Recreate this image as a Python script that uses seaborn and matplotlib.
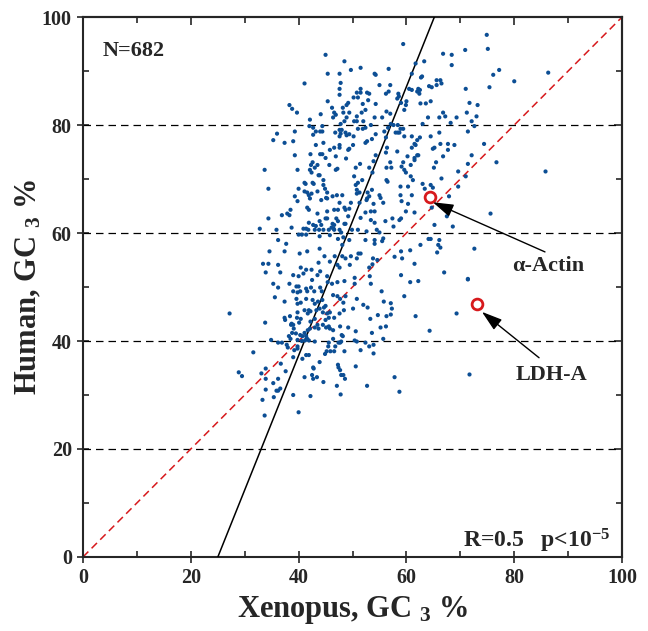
import matplotlib
matplotlib.use("Agg")
import matplotlib.pyplot as plt
import numpy as np
import pandas as pd
import seaborn as sns
from matplotlib.ticker import MultipleLocator, NullFormatter

# ---- data: (Xenopus GC3 %, Human GC3 %), grouped by region ----
upper_left = [(45.0,93.0),(48.5,91.8),(45.4,89.5),(47.6,89.5),(49.7,90.2),(51.5,90.6),(54.1,89.5),(54.3,89.3),(56.7,90.4),(41.1,87.7),(47.8,87.8),(47.6,86.7),(47.6,85.6),(50.8,86.0),(51.5,86.0),(51.5,86.7),(52.7,86.0),(53.1,85.8),(55.0,87.4),(56.2,85.8),(56.7,86.2),(57.0,87.4),(50.2,85.1),(51.0,85.1),(45.4,84.4),(52.9,84.6),(49.2,84.1),(48.9,83.7),(51.9,83.9),(54.3,83.9),(38.3,83.7),(38.8,83.0),(39.7,82.3),(46.2,83.2),(48.2,83.2),(52.4,82.8),(46.6,82.3),(46.9,81.9),(48.3,82.3),(49.4,82.3),(51.7,82.3),(44.1,82.0),(56.3,82.5),(57.0,82.1),(46.4,81.4),(48.9,81.4),(50.8,81.6),(50.8,80.7),(50.3,80.7),(54.1,81.4),(55.5,81.4),(42.1,81.0),(48.5,80.7),(52.0,80.7),(47.8,80.2),(42.0,79.8),(42.7,79.5),(44.4,79.8),(43.2,78.8),(44.0,78.8),(44.4,78.8),(39.3,78.8),(36.0,78.4),(35.3,77.2),(37.4,76.7),(39.0,77.0),(42.7,78.2),(44.6,76.7),(46.8,78.6),(47.6,79.1),(48.0,79.1),(47.8,78.4),(47.6,77.9),(48.7,78.6),(48.9,78.1),(49.4,78.3),(50.2,77.9),(51.0,79.3),(51.9,79.3),(52.4,79.5),(53.4,80.0),(54.3,78.3),(53.6,77.4),(52.7,77.0),(52.4,76.7),(55.9,78.8),(56.2,77.7),(56.6,79.5),(43.2,76.3),(44.0,74.6),(44.4,74.6),(45.8,75.4),(46.6,75.8),(47.6,76.3),(47.6,75.8),(46.9,74.2),(45.0,73.9),(50.1,76.3),(49.2,75.4),(49.4,75.6),(39.3,74.4),(42.2,74.6),(48.8,73.8),(56.4,75.8),(56.2,74.9),(54.3,74.4)]

upper_right = [(74.9,96.7),(59.4,95.0),(75.1,94.1),(66.8,93.2),(68.4,93.0),(70.9,93.9),(68.4,91.1),(63.3,91.8),(61.7,91.4),(61.0,89.5),(62.7,88.8),(62.9,89.0),(77.2,90.2),(76.1,89.3),(80.0,88.1),(86.3,89.7),(71.0,86.7),(75.4,87.0),(65.6,88.3),(66.3,88.3),(66.5,87.7),(65.6,87.4),(64.2,87.2),(64.7,87.0),(60.5,86.7),(61.0,86.5),(62.2,86.7),(62.5,86.5),(62.0,86.2),(62.4,85.8),(58.5,85.8),(58.6,85.3),(58.3,84.9),(59.0,84.1),(60.0,84.4),(59.9,83.7),(62.6,84.0),(63.6,84.0),(64.5,84.4),(71.7,84.1),(73.2,83.7),(59.6,82.8),(66.8,82.3),(67.2,81.6),(71.2,82.3),(73.0,81.6),(64.0,81.4),(66.1,81.4),(69.3,81.4),(68.2,80.4),(72.1,80.7),(72.6,79.8),(63.0,80.2),(57.1,80.2),(57.6,80.0),(58.4,80.0),(58.9,79.3),(59.4,79.3),(58.4,78.6),(58.0,78.6),(58.7,78.6),(59.6,77.9),(61.0,77.9),(62.5,77.7),(62.0,77.2),(61.5,76.5),(61.7,76.3),(61.0,75.8),(64.5,77.9),(66.1,78.6),(71.4,78.8),(66.3,76.5),(67.7,76.5),(68.9,76.3),(65.2,75.8),(64.9,75.6),(67.7,75.4),(74.4,76.5),(58.3,75.1),(60.2,74.2),(61.5,73.9),(62.0,74.4),(62.2,74.4),(66.8,74.2),(72.1,74.4)]

middle_left = [(33.7,71.7),(39.8,71.7),(42.3,72.6),(42.6,73.1),(43.0,72.1),(42.1,71.7),(42.4,71.2),(43.5,72.6),(45.7,72.6),(47.2,71.9),(46.9,71.7),(50.6,72.1),(51.4,72.8),(53.1,72.1),(53.9,73.3),(43.7,70.7),(43.9,70.7),(50.3,70.5),(53.7,71.2),(56.3,72.1),(41.1,69.3),(41.3,69.1),(42.6,69.3),(42.8,69.1),(44.6,69.8),(44.6,68.9),(51.0,69.3),(50.6,68.9),(51.8,69.8),(56.3,69.8),(56.5,69.5),(34.4,68.2),(40.0,68.2),(41.1,67.7),(41.6,67.5),(42.4,67.3),(41.9,67.0),(43.5,67.7),(44.9,68.2),(45.3,67.5),(45.1,66.5),(45.3,66.4),(46.3,66.8),(47.1,67.0),(48.1,67.0),(50.8,68.0),(50.8,67.3),(51.3,67.5),(52.8,67.5),(53.1,66.8),(52.7,66.4),(52.6,66.1),(55.0,67.0),(55.2,66.5),(53.6,68.0),(39.3,66.8),(39.8,65.9),(42.1,66.4),(44.2,66.1),(47.6,65.6),(49.7,65.6),(51.3,65.6),(53.9,65.4),(55.7,65.6),(41.6,64.7),(41.9,64.3),(45.3,64.0),(46.6,64.3),(47.3,64.3),(48.5,64.7),(48.7,64.3),(49.4,64.5),(52.4,63.8),(53.4,64.0),(54.1,64.0),(36.9,63.3),(37.9,63.6),(38.5,64.3),(38.3,63.3),(43.5,63.6),(49.2,63.1),(34.4,62.7),(45.0,62.7),(45.3,62.7),(47.0,62.7),(47.3,62.2),(51.5,62.8),(53.4,62.4),(54.1,61.9),(56.1,62.2),(41.9,61.9),(42.7,61.5),(43.2,61.3),(43.9,62.2),(44.2,61.5),(46.3,61.7),(46.6,61.5),(48.5,61.7),(48.7,61.7),(38.7,61.0),(40.9,60.8),(41.4,60.8),(41.8,60.6),(43.0,60.6),(43.8,60.6),(44.6,60.6),(45.6,60.6),(46.5,60.8),(46.1,61.0),(46.6,60.6),(47.6,60.6),(47.9,60.1),(49.9,60.6),(51.0,60.6),(32.8,60.8),(35.9,60.6),(40.0,59.7),(40.6,59.7),(41.4,59.7),(52.6,60.3),(54.5,60.6),(55.0,60.1),(43.9,59.4),(45.8,59.6),(47.3,58.9),(48.3,59.2),(49.4,58.7),(36.2,58.7),(37.7,58.0),(52.4,58.7),(54.1,58.7),(54.1,58.0),(55.5,58.5),(55.7,59.0),(48.1,57.8),(43.9,57.1),(34.6,56.6),(37.4,56.6),(41.6,56.6),(40.2,56.2),(44.8,55.7),(46.7,55.7),(48.1,55.7),(48.7,55.3),(51.1,56.2),(51.5,56.2),(49.7,55.7),(50.8,55.3),(53.8,55.3),(33.4,54.3),(34.4,54.3),(36.2,54.1),(40.4,53.6),(41.4,53.2),(42.4,53.2),(43.7,54.5),(45.8,54.7),(47.2,54.1),(47.6,53.6),(49.5,54.1),(44.0,52.9),(43.5,52.2),(33.9,52.7),(36.6,52.7),(39.0,52.2),(40.0,52.0),(40.9,52.5),(45.3,52.0),(50.4,51.7),(53.1,53.6),(53.7,54.2),(54.6,55.0),(53.2,52.0)]

middle_right = [(57.0,73.1),(57.2,72.1),(59.4,73.1),(59.1,72.3),(59.6,71.7),(59.9,71.2),(60.8,72.6),(61.5,73.5),(65.1,72.1),(65.5,73.1),(71.4,72.8),(76.7,73.1),(85.8,71.4),(69.6,71.4),(71.0,70.5),(60.8,70.5),(61.2,69.8),(66.5,70.1),(58.9,68.6),(60.3,68.6),(63.0,69.1),(64.5,68.9),(64.9,68.4),(63.4,68.2),(69.6,68.6),(58.9,67.0),(61.0,67.0),(59.1,65.9),(60.3,65.4),(67.9,66.8),(64.7,64.7),(59.9,64.0),(61.5,63.8),(75.6,63.6),(67.5,63.1),(57.4,62.7),(59.0,62.7),(58.7,62.4),(57.6,61.2),(65.2,61.5),(68.6,61.2),(64.1,58.9),(64.5,58.9),(66.1,58.7),(65.9,57.8),(66.3,57.3),(62.6,57.8),(59.0,56.6),(60.7,56.8),(57.8,55.6),(59.2,55.3),(65.7,56.4),(72.6,57.1),(61.5,54.3),(59.0,52.2),(67.0,52.7),(71.4,51.5)]

lower_left = [(35.3,50.6),(36.2,49.9),(38.3,50.6),(39.0,49.2),(39.8,49.0),(40.3,49.2),(40.0,50.1),(39.6,50.1),(41.4,49.7),(41.6,49.2),(42.3,49.9),(42.5,51.3),(44.0,49.9),(44.3,49.2),(42.9,49.2),(45.4,50.9),(46.2,50.6),(47.2,50.9),(48.5,51.1),(46.4,48.5),(47.2,48.3),(50.4,50.6),(53.4,50.6),(55.4,49.2),(37.4,47.3),(35.6,48.1),(39.6,47.8),(40.4,47.1),(39.8,46.9),(41.4,47.8),(42.6,47.6),(43.6,47.3),(43.0,46.9),(44.4,47.6),(45.0,46.5),(44.7,46.2),(47.7,47.8),(48.3,47.1),(48.7,48.3),(50.8,47.8),(55.8,47.3),(52.0,46.7),(52.8,46.2),(27.2,45.1),(33.8,43.4),(37.4,44.3),(37.5,43.9),(38.4,44.6),(38.7,43.2),(39.0,43.0),(38.6,43.0),(39.8,45.3),(39.7,44.3),(40.4,44.1),(40.1,43.4),(41.1,45.7),(41.9,45.7),(42.2,45.5),(41.7,45.1),(43.3,45.7),(43.9,46.0),(44.5,45.3),(45.3,45.1),(45.6,44.3),(45.0,43.9),(44.5,43.0),(45.8,45.3),(46.6,44.3),(47.6,45.1),(48.4,45.7),(50.1,46.0),(53.3,44.1),(54.7,44.8),(56.3,44.6),(42.2,43.6),(43.0,44.1),(43.5,43.0),(43.7,42.3),(43.0,42.5),(45.1,42.5),(45.6,42.7),(45.8,42.3),(46.4,42.0),(47.7,42.7),(49.2,42.5),(55.2,42.5),(56.2,42.7),(50.6,41.8),(53.6,41.5),(39.1,42.3),(38.8,41.5),(39.5,41.4),(38.2,40.9),(38.5,40.4),(40.3,41.1),(40.7,40.9),(41.1,41.5),(41.4,40.9),(41.6,40.4),(41.9,40.1),(41.2,40.1),(40.6,40.0),(39.8,40.2),(41.7,42.0),(42.1,42.3),(46.4,40.4),(48.0,41.1),(48.2,40.9),(43.0,39.9),(34.9,40.2),(36.2,39.7),(36.9,39.7),(37.8,39.3),(38.0,38.8),(39.2,38.3),(39.8,38.6),(39.8,39.0),(45.6,39.7),(45.5,39.0),(45.2,38.1),(44.9,37.6),(45.9,38.1),(46.8,39.0),(46.6,38.1),(47.7,39.7),(47.9,39.9),(47.4,39.7),(48.5,38.1),(50.4,40.1),(50.8,39.9),(51.5,38.3),(52.4,39.7),(53.1,39.0),(53.9,39.3),(53.9,37.7),(55.7,40.4),(31.6,37.9),(36.7,35.8),(39.0,37.0),(40.7,36.7),(41.4,37.4),(41.9,37.4),(43.9,36.1),(42.7,35.1),(42.8,34.9),(47.3,35.6),(47.4,35.1),(47.7,34.6),(47.9,33.7),(48.3,33.7),(48.6,33.0),(50.6,35.3),(37.6,34.4),(41.1,33.3),(42.5,33.7),(43.4,33.3),(42.7,33.0),(44.6,32.4),(28.9,34.2),(29.5,33.5),(33.1,34.0),(33.9,34.9),(33.9,33.0),(35.3,32.2),(36.2,33.0),(36.6,31.2),(35.9,30.8),(36.2,30.8),(35.4,29.6),(33.9,31.0),(33.3,29.1),(39.0,30.0),(42.2,29.8),(47.1,31.7),(47.8,30.1),(52.7,31.7),(33.7,26.2),(40.0,26.8)]

lower_right = [(71.4,51.4),(60.7,50.9),(62.2,51.1),(59.6,48.3),(57.1,47.0),(57.3,46.0),(57.1,44.9),(61.7,44.6),(69.3,45.1),(64.3,41.9),(57.8,33.3),(71.7,33.8),(58.7,30.6)]

genes = upper_left + upper_right + middle_left + middle_right + lower_left + lower_right
xenopus_gc3 = [p[0] for p in genes]
human_gc3 = [p[1] for p in genes]

highlight_names = ["\u03b1-Actin", "LDH-A"]
highlight_x = [64.4, 73.1]
highlight_y = [66.7, 46.9]

n_genes = 682
r_value = 0.5
regression_slope = 2.49
regression_intercept = -62.3
grid_levels = [20, 40, 60, 80]

# ---- style ----
sns.set_style("ticks")
plt.rcParams["font.family"] = ["Liberation Serif", "DejaVu Serif"]
plt.rcParams["font.weight"] = "bold"
plt.rcParams["mathtext.fontset"] = "custom"
plt.rcParams["mathtext.rm"] = "Liberation Serif:bold"
plt.rcParams["mathtext.bf"] = "Liberation Serif:bold"
plt.rcParams["mathtext.it"] = "Liberation Serif:bold:italic"
plt.rcParams["mathtext.default"] = "rm"

fig = plt.figure(figsize=(6.48, 6.31), dpi=100)
ax = fig.add_axes([0.128, 0.1173, 0.832, 0.8557])

df = pd.DataFrame({"xen": xenopus_gc3, "hum": human_gc3})

for lvl in grid_levels:
    ax.axhline(lvl, color="black", lw=0.9, ls=(0, (6, 4)), zorder=1)

# diagonal y = x
diag = pd.DataFrame({"x": [0, 100], "y": [0, 100]})
sns.lineplot(data=diag, x="x", y="y", ax=ax, color="#d7191c", lw=1.1,
             linestyle=(0, (5, 3)), zorder=2)

# regression line
fx = np.linspace(0, 100, 201)
fy = regression_slope * fx + regression_intercept
keep = (fy >= -1) & (fy <= 101)
fit = pd.DataFrame({"x": fx[keep], "y": fy[keep]})
sns.lineplot(data=fit, x="x", y="y", ax=ax, color="black", lw=1.1, zorder=3)

sns.scatterplot(data=df, x="xen", y="hum", ax=ax, s=9, color="#0c4e94",
                edgecolor="none", linewidth=0, zorder=4)

hl = pd.DataFrame({"x": highlight_x, "y": highlight_y})
sns.scatterplot(data=hl, x="x", y="y", ax=ax, s=60, facecolor="white",
                edgecolor="#d7191c", linewidth=2, zorder=5)

# annotations
arrow_kw = dict(arrowstyle="-|>,head_length=0.7,head_width=0.22", color="black",
                lw=1.0, shrinkA=0, shrinkB=0, mutation_scale=18)
ax.annotate("", xy=(64.9, 65.7), xytext=(85.7, 56.5), arrowprops=arrow_kw, zorder=6)
ax.annotate("", xy=(74.0, 45.4), xytext=(84.6, 36.9), arrowprops=arrow_kw, zorder=6)
ax.text(86.3, 53.8, highlight_names[0], ha="center", va="center", fontsize=16, fontweight="bold")
ax.text(86.9, 33.7, highlight_names[1], ha="center", va="center", fontsize=16, fontweight="bold")

ax.text(3.65, 93.7, f"N={n_genes}", ha="left", va="center", fontsize=16, fontweight="bold")
ax.text(97.8, 1.7, f"R={r_value}   p<10$^{{-5}}$", ha="right", va="baseline", fontsize=17,
        fontweight="bold")

ax.set_xlim(0, 100)
ax.set_ylim(0, 100)
for axis in (ax.xaxis, ax.yaxis):
    axis.set_major_locator(MultipleLocator(20))
    axis.set_minor_locator(MultipleLocator(10))
ax.tick_params(which="both", top=False, right=False, labelsize=14.5, width=1.2)
ax.tick_params(which="major", direction="inout", length=8, pad=4)
ax.tick_params(which="minor", direction="in", length=4)
for lab in ax.get_xticklabels() + ax.get_yticklabels():
    lab.set_fontweight("bold")
for sp in ax.spines.values():
    sp.set_linewidth(1.5)
    sp.set_visible(True)

# inward ticks on the top and right edges
secx = ax.secondary_xaxis("top")
secy = ax.secondary_yaxis("right")
for sec, axis in ((secx, secx.xaxis), (secy, secy.yaxis)):
    axis.set_major_locator(MultipleLocator(20))
    axis.set_minor_locator(MultipleLocator(10))
    axis.set_major_formatter(NullFormatter())
    sec.tick_params(which="major", direction="in", length=6, width=1.2)
    sec.tick_params(which="minor", direction="in", length=4, width=1.2)
    for sp in sec.spines.values():
        sp.set_linewidth(1.5)

ax.set_xlabel("Xenopus, GC $_{3}$ %", fontsize=22, fontweight="bold", labelpad=4)
ax.set_ylabel("Human, GC $_{3}$ %", fontsize=22, fontweight="bold", labelpad=-1)

fig.savefig("out.png", dpi=100)
